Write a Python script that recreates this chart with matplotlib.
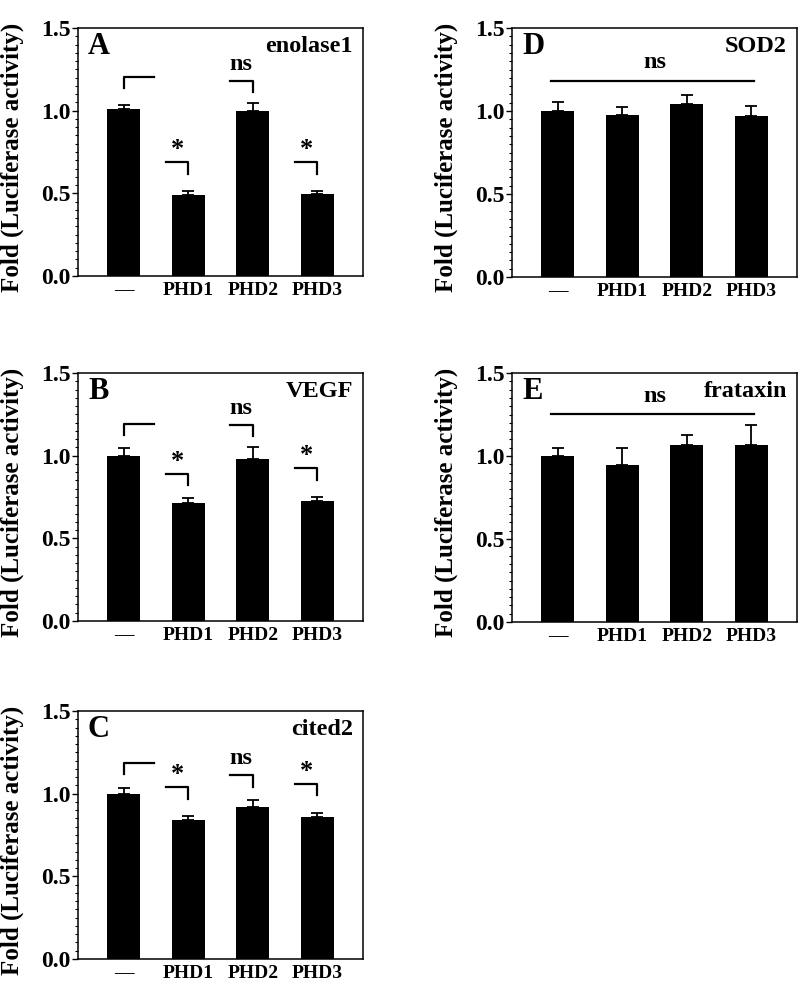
import numpy as np
import matplotlib
matplotlib.use('Agg')
import matplotlib.pyplot as plt
from matplotlib.ticker import MultipleLocator, FormatStrFormatter

plt.rcParams['font.family'] = ['Liberation Serif', 'DejaVu Serif']
plt.rcParams['font.weight'] = 'bold'

categories = ['\u2014', 'PHD1', 'PHD2', 'PHD3']

# bar means and upper errors for each panel
enolase1 = [1.01, 0.49, 1.00, 0.495]
enolase1_err = [0.022, 0.025, 0.045, 0.02]
vegf = [1.00, 0.716, 0.98, 0.726]
vegf_err = [0.048, 0.03, 0.07, 0.026]
cited2 = [1.00, 0.842, 0.92, 0.858]
cited2_err = [0.037, 0.02, 0.042, 0.024]
sod2 = [1.00, 0.976, 1.041, 0.970]
sod2_err = [0.053, 0.051, 0.056, 0.061]
frataxin = [0.998, 0.944, 1.064, 1.068]
frataxin_err = [0.052, 0.104, 0.06, 0.117]

# significance marks and bracket heights (A-C: one bracket per bar)
sig_marks = ['', '*', 'ns', '*']
enolase1_brk = [1.206, 0.688, 1.18, 0.688]
vegf_brk = [1.192, 0.891, 1.187, 0.925]
cited2_brk = [1.188, 1.039, 1.113, 1.059]
# D-E: single ns line over all bars
sod2_line = 1.182
frataxin_line = 1.251

fig = plt.figure(figsize=(8, 9.82), dpi=100)
W, H = 800, 982


def make_axes(left, top, right, bottom):
    return fig.add_axes([left / W, 1 - bottom / H, (right - left) / W, (bottom - top) / H])


def style(ax):
    ax.set_xlim(-0.71, 3.71)
    ax.set_ylim(0, 1.5)
    ax.yaxis.set_major_locator(MultipleLocator(0.5))
    ax.yaxis.set_minor_locator(MultipleLocator(0.05))
    ax.yaxis.set_major_formatter(FormatStrFormatter('%.1f'))
    ax.tick_params(axis='y', which='major', direction='out', length=4, width=1, labelsize=17, pad=1.5)
    ax.tick_params(axis='y', which='minor', direction='out', length=2, width=0.8)
    ax.tick_params(axis='x', length=0, labelsize=14, pad=4)
    ax.set_xticks(range(4))
    ax.set_xticklabels(categories, fontweight='bold')
    for s in ax.spines.values():
        s.set_linewidth(1.1)
    ax.set_ylabel('Fold (Luciferase activity)', fontsize=18, fontweight='bold')
    ax.yaxis.set_label_coords(-0.19, 0.48)


def bars(ax, vals, errs):
    x = np.arange(len(vals))
    ax.bar(x, vals, width=0.51, color='black', zorder=2)
    ax.errorbar(x, vals, yerr=[np.zeros(len(vals)), errs], fmt='none', ecolor='black',
                elinewidth=1.3, capsize=4.5, capthick=1.3, zorder=1)


def labels(ax, letter, gene):
    ax.text(0.035, 0.925, letter, transform=ax.transAxes, fontsize=22, fontweight='bold',
            ha='left', va='center')
    ax.text(0.965, 0.925, gene, transform=ax.transAxes, fontsize=17.5, fontweight='bold',
            ha='right', va='center')


def brackets(ax, tops):
    drop = 0.07
    for i, (y, m) in enumerate(zip(tops, sig_marks)):
        if i == 0:
            ax.plot([i, i, i + 0.47], [y - drop, y, y], color='black', lw=1.6)
        else:
            ax.plot([i - 0.35, i, i], [y, y, y - drop], color='black', lw=1.6)
            if m == '*':
                ax.text(i - 0.17, y + 0.075, m, fontsize=19, fontweight='bold',
                        ha='center', va='center')
            else:
                ax.text(i - 0.19, y + 0.10, m, fontsize=17.5, fontweight='bold',
                        ha='center', va='center')


def ns_line(ax, y):
    ax.plot([-0.11, 3.04], [y, y], color='black', lw=1.6)
    ax.text(1.5, y + 0.11, 'ns', fontsize=17.5, fontweight='bold', ha='center', va='center')


axA = make_axes(78, 28, 363, 276)
axB = make_axes(78, 373, 363, 621)
axC = make_axes(78, 711, 363, 959)
axD = make_axes(512, 28, 797, 277)
axE = make_axes(512, 373, 797, 622)

for ax, vals, errs, letter, gene in [
        (axA, enolase1, enolase1_err, 'A', 'enolase1'),
        (axB, vegf, vegf_err, 'B', 'VEGF'),
        (axC, cited2, cited2_err, 'C', 'cited2'),
        (axD, sod2, sod2_err, 'D', 'SOD2'),
        (axE, frataxin, frataxin_err, 'E', 'frataxin')]:
    style(ax)
    bars(ax, vals, errs)
    labels(ax, letter, gene)

brackets(axA, enolase1_brk)
brackets(axB, vegf_brk)
brackets(axC, cited2_brk)
ns_line(axD, sod2_line)
ns_line(axE, frataxin_line)

fig.savefig('out.png', dpi=100)
